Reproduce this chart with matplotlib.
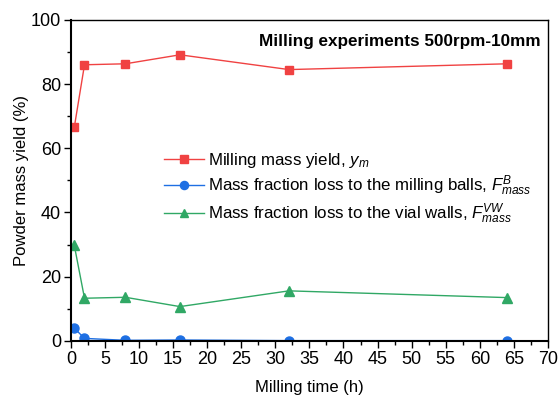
import matplotlib
matplotlib.use("Agg")
import matplotlib.pyplot as plt
from matplotlib.ticker import MultipleLocator

plt.rcParams['font.family'] = ['Liberation Sans', 'DejaVu Sans']
plt.rcParams['mathtext.fontset'] = 'custom'
plt.rcParams['mathtext.rm'] = 'Liberation Sans'
plt.rcParams['mathtext.it'] = 'Liberation Sans:italic'

# milling time (h)
time_h = [0.5, 2, 8, 16, 32, 64]
# powder mass yield (%)
yield_m = [66.5, 86.0, 86.3, 89.1, 84.5, 86.3]
loss_balls = [4.0, 0.8, 0.2, 0.3, 0.1, 0.1]
loss_walls = [29.8, 13.3, 13.6, 10.7, 15.6, 13.5]

red = '#F04242'
blue = '#1E6FE3'
green = '#30A865'

fig = plt.figure(figsize=(5.58, 3.96), dpi=100)
ax = fig.add_axes([0.127, 0.139, 0.855, 0.811])

ax.plot(time_h, yield_m, color=red, marker='s', ms=6, lw=1.0,
        label='Milling mass yield, $y_m$')
ax.plot(time_h, loss_balls, color=blue, marker='o', ms=6.5, lw=1.0,
        label='Mass fraction loss to the milling balls, $F^{B}_{mass}$')
ax.plot(time_h, loss_walls, color=green, marker='^', ms=6.5, lw=1.0,
        label='Mass fraction loss to the vial walls, $F^{VW}_{mass}$')

ax.set_xlim(0, 70)
ax.set_ylim(0, 100)
ax.xaxis.set_major_locator(MultipleLocator(5))
ax.xaxis.set_minor_locator(MultipleLocator(2.5))
ax.yaxis.set_major_locator(MultipleLocator(20))
ax.yaxis.set_minor_locator(MultipleLocator(10))
ax.tick_params(which='both', direction='out', labelsize=13, width=1.0, pad=2)
ax.tick_params(which='major', length=5)
ax.tick_params(which='minor', length=3)
for side in ['left', 'bottom']:
    ax.spines[side].set_linewidth(1.5)
for side in ['top', 'right']:
    ax.spines[side].set_linewidth(1.0)

ax.set_xlabel('Milling time (h)', fontsize=12, labelpad=9)
ax.set_ylabel('Powder mass yield (%)', fontsize=12, labelpad=1.5)

ax.text(0.985, 0.955, 'Milling experiments 500rpm-10mm', transform=ax.transAxes,
        ha='right', va='top', fontsize=12.3, fontweight='bold')

leg = ax.legend(loc='center left', bbox_to_anchor=(0.18, 0.475), frameon=False,
                fontsize=12.2, handlelength=2.4, handletextpad=0.25,
                labelspacing=0.2, borderaxespad=0, markerscale=0.9)

fig.savefig('out.png', dpi=100)
